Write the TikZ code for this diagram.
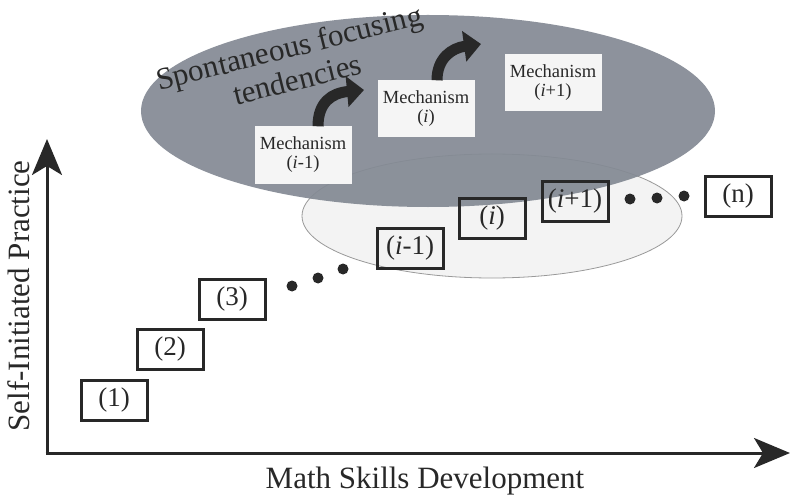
\documentclass[tikz,border=0pt]{standalone}
\usepackage{fontspec}
\setmainfont{Liberation Serif}
\usetikzlibrary{arrows.meta}
\definecolor{darkell}{RGB}{132,138,148}
\definecolor{lightell}{RGB}{243,243,243}
\definecolor{ink}{RGB}{40,40,40}
\tikzset{
  stepbox/.style={draw=ink, line width=3pt, minimum width=66pt, minimum height=40pt, inner sep=0pt, font=\fontsize{27}{29}\selectfont, text=ink},
  mechbox/.style={fill=white!96!black, minimum width=97pt, minimum height=57pt, inner sep=0pt, align=center, font=\fontsize{18.5}{19}\selectfont, text=ink},
  dotmark/.style={circle, fill=ink, minimum size=11pt, inner sep=0pt},
  bigarrow/.style={draw=ink, line width=11pt, -{Triangle[length=17pt,width=30pt]}},
  axis/.style={draw=ink, line width=3pt, -{Stealth[length=36pt,width=30pt,inset=9pt]}}
}
\begin{document}
\begin{tikzpicture}[x=1pt,y=-1pt]
\useasboundingbox (0,0) rectangle (810,497);
% ellipses
\draw[draw=black!40, fill=lightell, line width=0.8pt] (492,216) ellipse [x radius=190, y radius=62];
\fill[darkell, opacity=0.93] (428,111) ellipse [x radius=287, y radius=96];
% title
\node[rotate=14, align=center, font=\fontsize{31}{33}\selectfont, text=ink] (title) at (293,63) {Spontaneous focusing\\tendencies};
% mechanisms
\node[mechbox] (m1) at (303,155) {Mechanism\\(\textit{i}-1)};
\node[mechbox] (m2) at (426,109) {Mechanism\\(\textit{i})};
\node[mechbox] (m3) at (553,83) {Mechanism\\(\textit{i}+1)};
\coordinate (t1) at (364,90);
\coordinate (t2) at (481,44);
\draw[bigarrow] ([xshift=15pt]m1.north) .. controls (318,102) and (332,93) .. (t1);
\draw[bigarrow] ([xshift=11pt]m2.north) .. controls (437,58) and (452,48) .. (t2);
% axes
\coordinate (o) at (47,453);
\coordinate (ytip) at (47,139);
\coordinate (xtip) at (790,453);
\draw[axis] ([xshift=-1.5pt]o) -- (xtip);
\draw[axis] ([yshift=1.5pt]o) -- (ytip);
\node[font=\fontsize{31}{33}\selectfont, text=ink] (xl) at (425,481) {Math Skills Development};
\node[rotate=90, font=\fontsize{31}{33}\selectfont, text=ink] (yl) at (19,296) {Self-Initiated Practice};
% steps
\node[stepbox] (s1) at (114,400) {(1)};
\node[stepbox] (s2) at (170,349) {(2)};
\node[stepbox] (s3) at (232,299) {(3)};
\node[dotmark] (d1) at (292,286) {};
\node[dotmark] (d2) at (318,278) {};
\node[dotmark] (d3) at (343,269) {};
\node[stepbox] (si1) at (410,248) {(\textit{i}-1)};
\node[stepbox] (si) at (492,218) {(\textit{i})};
\node[stepbox] (si2) at (575,201) {(\textit{i}+1)};
\node[dotmark] (d4) at (630,199) {};
\node[dotmark] (d5) at (657,198) {};
\node[dotmark] (d6) at (684,196) {};
\node[stepbox] (sn) at (738,196) {(n)};
\end{tikzpicture}
\end{document}
